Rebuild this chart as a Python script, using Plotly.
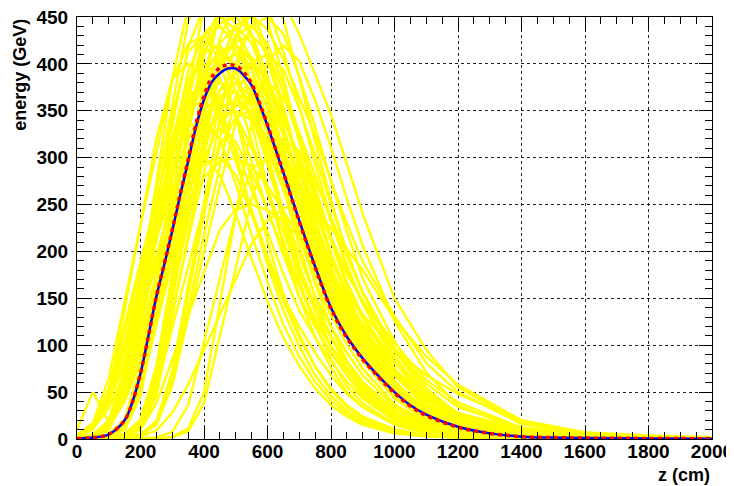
import plotly.graph_objects as go

# Common longitudinal sampling of the individual shower profiles (cm)
Z_GRID = [0, 50, 100, 150, 200, 250, 300, 350, 400, 450, 500, 550, 600, 650, 700,
          750, 800, 850, 900, 1000, 1100, 1200, 1400, 1600, 1800, 2000]

# Individual shower profiles (GeV)
SHOWERS_CORE = [
    [1.6, 4, 16, 60, 136, 212, 284, 356, 392, 400, 384, 344, 296, 244, 196, 152, 120, 92, 68, 34, 16, 8, 2.6, 1, 0.6, 0.4],
    [0.8, 1.7, 4.2, 17, 63, 143, 223, 298, 374, 412, 420, 403, 361, 311, 256, 206, 160, 126, 97, 50, 24, 12, 3.4, 1.3, 0.6, 0.4],
    [0.8, 1.5, 3.8, 15, 57, 129, 201, 270, 338, 372, 380, 357, 304, 243, 186, 137, 99, 68, 46, 19, 7.6, 3.4, 1.1, 0.4, 0.4, 0.2],
    [4.3, 17, 65, 146, 228, 305, 383, 421, 430, 413, 370, 318, 262, 211, 163, 129, 99, 73, 52, 24, 12, 6.5, 2.2, 0.9, 0.6, 0.4],
    [0.4, 0.8, 1.6, 4, 16, 60, 136, 212, 284, 356, 392, 400, 384, 344, 296, 244, 196, 152, 120, 68, 34, 16, 4.4, 1.6, 0.8, 0.5],
    [3.7, 13, 41, 85, 141, 196, 252, 307, 344, 364, 370, 355, 318, 274, 226, 181, 141, 111, 85, 44, 21, 10, 3, 1.1, 0.6, 0.4],
    [0.8, 2.3, 9.5, 46, 129, 217, 304, 365, 380, 357, 304, 243, 186, 137, 99, 68, 46, 30, 19, 7.6, 3.4, 1.9, 0.8, 0.4, 0.2, 0.1],
    [3.5, 12, 39, 81, 133, 186, 238, 291, 326, 345, 350, 340, 315, 284, 252, 214, 179, 147, 123, 81, 49, 28, 9.8, 3.5, 1.8, 1.1],
    [1.4, 3.6, 13, 40, 83, 137, 191, 245, 299, 335, 355, 360, 346, 310, 266, 220, 176, 137, 108, 61, 31, 14, 4, 1.4, 0.7, 0.4],
    [1.7, 4.2, 17, 63, 143, 223, 298, 374, 412, 420, 395, 336, 269, 206, 151, 109, 76, 50, 34, 15, 5.9, 2.9, 1.3, 0.4, 0.3, 0.2],
    [0.4, 0.9, 0.9, 2.6, 11, 53, 150, 251, 352, 422, 440, 422, 378, 326, 268, 216, 167, 132, 101, 53, 25, 12, 3.5, 1.3, 0.7, 0.4],
    [0.4, 0.4, 0.8, 1.5, 3.8, 15, 57, 129, 201, 270, 338, 372, 380, 365, 327, 281, 232, 186, 144, 87, 46, 21, 5.7, 1.9, 0.8, 0.5],
    [3.4, 14, 51, 116, 180, 241, 303, 333, 340, 320, 272, 218, 167, 122, 88, 61, 41, 27, 17, 6.8, 3.1, 1.7, 0.7, 0.3, 0.2, 0.1],
    [0.7, 1.4, 3.6, 14, 54, 122, 191, 256, 320, 353, 360, 346, 310, 266, 220, 176, 137, 108, 83, 43, 20, 10, 2.9, 1.1, 0.5, 0.4],
    [0.8, 0.8, 2.3, 9.5, 46, 129, 217, 304, 365, 380, 369, 342, 308, 274, 232, 194, 160, 133, 110, 68, 42, 23, 7.6, 3, 1.5, 0.8],
    [3.6, 14, 54, 122, 191, 256, 320, 353, 360, 346, 310, 266, 220, 176, 137, 108, 83, 61, 43, 20, 10, 5.4, 1.8, 0.7, 0.5, 0.4],
    [1.7, 4.3, 15, 47, 99, 163, 228, 292, 357, 400, 424, 430, 413, 370, 318, 262, 211, 163, 129, 73, 37, 17, 4.7, 1.7, 0.9, 0.5],
    [0.4, 0.8, 0.8, 2.3, 9.5, 46, 129, 217, 304, 365, 380, 365, 327, 281, 232, 186, 144, 114, 87, 46, 21, 11, 3, 1.1, 0.6, 0.4],
    [1.8, 4.4, 18, 66, 150, 233, 312, 392, 431, 440, 422, 378, 326, 268, 216, 167, 132, 101, 75, 37, 18, 8.8, 2.9, 1.1, 0.7, 0.4],
    [2.4, 10, 48, 136, 228, 320, 384, 400, 384, 344, 296, 244, 196, 152, 120, 92, 68, 48, 34, 16, 8, 4.4, 2, 0.8, 0.4, 0.3],
    [4.2, 15, 46, 97, 160, 223, 286, 349, 391, 414, 420, 407, 378, 340, 302, 256, 214, 176, 147, 97, 59, 34, 12, 4.2, 2.1, 1.3],
    [0.4, 0.7, 1.4, 3.5, 14, 53, 119, 186, 249, 312, 343, 350, 340, 315, 284, 252, 214, 179, 147, 102, 63, 39, 12, 4.2, 2.1, 1.1],
    [10, 50, 18, 48, 136, 228, 320, 384, 400, 384, 344, 296, 244, 196, 152, 120, 92, 68, 48, 22, 11, 6, 2, 0.8, 0.5, 0.4],
    [0.8, 1.6, 4, 16, 60, 136, 212, 284, 356, 392, 400, 384, 344, 296, 244, 196, 152, 120, 92, 48, 22, 11, 3.2, 1.2, 0.6, 0.4],
    [1.4, 3.6, 14, 54, 122, 191, 256, 320, 353, 360, 346, 310, 266, 220, 176, 137, 108, 83, 61, 31, 14, 7.2, 2.3, 0.9, 0.5, 0.4],
    [0.4, 0.9, 1.8, 4.4, 18, 66, 150, 233, 312, 392, 431, 440, 422, 378, 326, 268, 216, 167, 132, 75, 37, 18, 4.8, 1.8, 0.9, 0.5],
    [1.6, 4, 14, 44, 92, 152, 212, 272, 332, 372, 394, 400, 384, 344, 296, 244, 196, 152, 120, 68, 34, 16, 4.4, 1.6, 0.8, 0.5],
    [0.8, 0.8, 2.5, 10, 49, 139, 234, 328, 394, 410, 398, 369, 332, 295, 250, 209, 172, 144, 119, 74, 45, 25, 8.2, 3.3, 1.6, 0.8],
    [0.9, 2.6, 11, 52, 146, 245, 344, 413, 430, 404, 344, 275, 211, 155, 112, 77, 52, 34, 22, 8.6, 3.9, 2.2, 0.9, 0.4, 0.2, 0.1],
    [0.4, 0.4, 0.8, 1.6, 4.1, 16, 62, 139, 217, 291, 365, 402, 410, 394, 353, 303, 250, 201, 156, 94, 49, 23, 6.2, 2, 0.8, 0.5],
    [0.8, 1.7, 4.2, 17, 63, 143, 223, 298, 374, 412, 420, 395, 336, 269, 206, 151, 109, 76, 50, 21, 8.4, 3.8, 1.3, 0.4, 0.4, 0.2],
    [4.1, 14, 45, 94, 156, 217, 279, 340, 381, 404, 410, 394, 353, 303, 250, 201, 156, 123, 94, 49, 23, 11, 3.3, 1.2, 0.6, 0.4],
]

SHOWERS_HIGH = [
    [0.9, 0.9, 2.7, 11, 54, 153, 257, 360, 432, 450, 437, 405, 365, 324, 275, 230, 189, 158, 131, 81, 50, 27, 9, 3.6, 1.8, 0.9],
    [0.9, 1.9, 4.7, 19, 71, 160, 249, 334, 418, 461, 470, 451, 404, 348, 287, 230, 179, 141, 108, 56, 26, 13, 3.8, 1.4, 0.7, 0.5],
    [0.5, 0.9, 1.8, 4.5, 18, 68, 153, 239, 320, 401, 441, 450, 437, 405, 365, 324, 275, 230, 189, 131, 81, 50, 16, 5.4, 2.7, 1.4],
    [2, 5, 20, 75, 170, 265, 355, 445, 490, 500, 480, 430, 370, 305, 245, 190, 150, 115, 85, 43, 20, 10, 3.3, 1.3, 0.8, 0.5],
    [1, 2.9, 12, 58, 163, 274, 384, 461, 480, 461, 413, 355, 293, 235, 182, 144, 110, 82, 58, 27, 13, 7.2, 2.4, 1, 0.6, 0.5],
    [0.5, 1, 2.1, 5.2, 21, 78, 177, 276, 369, 463, 510, 520, 499, 447, 385, 317, 255, 198, 156, 88, 44, 21, 5.7, 2.1, 1, 0.6],
    [1, 2.1, 5.2, 21, 78, 177, 276, 369, 463, 510, 520, 499, 447, 385, 317, 255, 198, 156, 120, 62, 29, 15, 4.2, 1.6, 0.8, 0.5],
    [0.5, 0.5, 0.9, 1.8, 4.5, 18, 68, 153, 239, 320, 401, 441, 450, 432, 387, 333, 275, 221, 171, 104, 54, 25, 6.8, 2.3, 0.9, 0.6],
    [4.5, 16, 50, 104, 171, 239, 306, 374, 419, 443, 450, 432, 387, 333, 275, 221, 171, 135, 104, 54, 25, 13, 3.6, 1.4, 0.7, 0.5],
    [0.5, 1, 1.9, 4.8, 19, 72, 163, 254, 341, 427, 470, 480, 461, 413, 355, 293, 235, 182, 144, 82, 41, 19, 5.3, 1.9, 1, 0.6],
    [0.9, 1.8, 4.6, 18, 69, 156, 244, 327, 409, 451, 460, 432, 368, 294, 225, 166, 120, 83, 55, 23, 9.2, 4.1, 1.4, 0.5, 0.5, 0.2],
    [1.9, 4.7, 19, 71, 160, 249, 334, 418, 461, 470, 442, 376, 301, 230, 169, 122, 85, 56, 38, 16, 6.6, 3.3, 1.4, 0.5, 0.4, 0.2],
    [0.5, 1, 1, 2.9, 12, 58, 163, 274, 384, 461, 480, 461, 413, 355, 293, 235, 182, 144, 110, 58, 27, 13, 3.8, 1.4, 0.7, 0.5],
]

SHOWERS_LOW = [
    [1.3, 3.3, 13, 50, 112, 175, 234, 294, 323, 330, 317, 284, 244, 201, 162, 125, 99, 76, 56, 28, 13, 6.6, 2.1, 0.8, 0.5, 0.3],
    [3, 11, 33, 69, 114, 159, 204, 249, 279, 296, 300, 291, 270, 243, 216, 183, 153, 126, 105, 69, 42, 24, 8.4, 3, 1.5, 0.9],
    [0.3, 0.5, 1, 2.5, 10, 38, 85, 133, 178, 223, 245, 250, 244, 233, 215, 195, 175, 153, 133, 95, 68, 48, 19, 7, 3.8, 1.8],
    [1.2, 3, 12, 45, 102, 159, 213, 267, 294, 300, 282, 240, 192, 147, 108, 78, 54, 36, 24, 10.5, 4.2, 2.1, 0.9, 0.3, 0.2, 0.2],
    [3, 12, 45, 102, 159, 213, 267, 294, 300, 282, 240, 192, 147, 108, 78, 54, 36, 24, 15, 6, 2.7, 1.5, 0.6, 0.3, 0.2, 0.1],
]

SHOWERS_LATE = [
    [0.4, 0.4, 0.4, 0.4, 0.8, 0.8, 2.5, 11, 50, 143, 239, 336, 403, 420, 403, 361, 311, 256, 206, 126, 71, 36, 8.4, 2.9, 1.3, 0.6],
    [0.3, 0.5, 0.8, 1, 2.5, 9, 28, 58, 95, 133, 170, 208, 233, 246, 250, 243, 225, 203, 180, 128, 88, 58, 20, 7, 2.5, 1.3],
    [0.5, 0.5, 1, 1.9, 4.8, 19, 72, 163, 254, 341, 427, 470, 480, 466, 432, 389, 346, 293, 240, 150, 95, 55, 17, 5, 2, 1],
    [0.3, 0.3, 0.3, 0.3, 0.6, 1.8, 7.5, 36, 102, 171, 240, 288, 300, 288, 258, 222, 183, 147, 114, 69, 36, 17, 4.5, 1.5, 0.6, 0.4],
    [0.3, 0.3, 0.3, 0.3, 0.6, 0.6, 1.9, 8, 38, 109, 182, 256, 307, 320, 307, 275, 237, 195, 157, 96, 54, 27, 6.4, 2.2, 1, 0.5],
]

# Mean profile (red) and fitted profile (blue)
Z_PROFILE = [0, 50, 100, 150, 175, 200, 225, 250, 275, 300, 325, 350, 375, 400, 425, 450, 475, 500, 525, 550,
             575, 600, 650, 700, 750, 800, 850, 900, 950, 1000, 1050, 1100, 1200, 1300, 1400, 1500, 1600, 1800, 2000]
FIT_E = [0.5, 1.5, 5, 20, 40, 70, 110, 152, 186, 222, 260, 296, 333, 362, 381, 390, 395, 395, 388, 377,
         357, 334, 284, 233, 184, 140, 109, 86, 67, 50, 36, 26, 13, 6, 2.5, 1.5, 1, 0.6, 0.3]
MEAN_E = [0.5, 1.5, 5, 20, 40, 70, 110, 152, 187, 223, 261, 298, 336, 366, 386, 396, 399, 398, 391, 379,
          358, 335, 284, 232, 183, 139, 108, 85, 66, 49, 35, 25, 12.5, 6, 2.5, 1.5, 1, 0.6, 0.3]

X_TITLE = "z (cm)"
Y_TITLE = "energy (GeV)"

fig = go.Figure()
for group in (SHOWERS_CORE, SHOWERS_HIGH, SHOWERS_LOW, SHOWERS_LATE):
    for row in group:
        fig.add_trace(go.Scatter(x=Z_GRID, y=row, mode="lines",
                                 line=dict(color="#ffff00", width=2.4),
                                 hoverinfo="skip", showlegend=False))

fig.add_trace(go.Scatter(x=Z_PROFILE, y=FIT_E, mode="lines",
                         line=dict(color="#0000ff", width=2.5, shape="spline"),
                         showlegend=False))
fig.add_trace(go.Scatter(x=Z_PROFILE, y=MEAN_E, mode="lines",
                         line=dict(color="#ff0000", width=3.5, dash="4px,4px", shape="spline"),
                         showlegend=False))

tick_font = dict(family="Liberation Sans", size=19, color="black", weight="bold")
common = dict(showline=True, linecolor="black", linewidth=1, mirror="ticks",
              ticks="inside", tickcolor="black", ticklen=13, tickwidth=1,
              showgrid=True, gridcolor="#222222", griddash="dot", gridwidth=1,
              zeroline=False, tickfont=tick_font, layer="above traces",
              automargin=False, ticklabeloverflow="allow")

# The page body adds an 8 px offset, so the figure is sized to fit the window.
fig.update_layout(
    template="none",
    width=726, height=478,
    margin=dict(l=69, r=22, t=9, b=47),
    paper_bgcolor="white", plot_bgcolor="white",
    xaxis=dict(range=[0, 2000], tick0=0, dtick=200,
               minor=dict(ticks="inside", ticklen=7, dtick=50, tickcolor="black", showgrid=False),
               ticklabelstandoff=-5, **common),
    yaxis=dict(range=[0, 450], tick0=0, dtick=50,
               minor=dict(ticks="inside", ticklen=7, dtick=10, tickcolor="black", showgrid=False),
               ticklabelstandoff=4, **common),
    annotations=[
        dict(text=X_TITLE, xref="paper", yref="paper", x=1.0, y=-0.085,
             xanchor="right", yanchor="middle", showarrow=False,
             font=dict(family="Liberation Sans", size=18, color="black", weight="bold")),
        dict(text=Y_TITLE, xref="paper", yref="paper", x=-0.09, y=1.0,
             xanchor="center", yanchor="top", textangle=-90, showarrow=False,
             font=dict(family="Liberation Sans", size=18, color="black", weight="bold")),
    ],
)

fig.write_html("out.html")
